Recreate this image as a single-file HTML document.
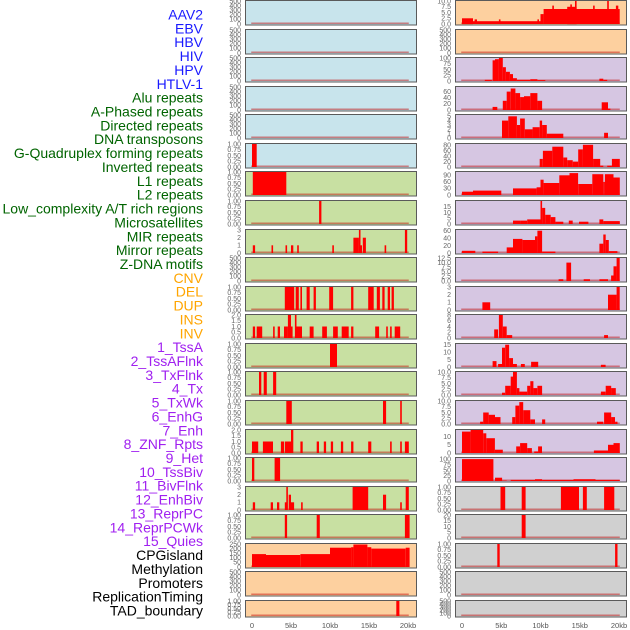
<!DOCTYPE html>
<html><head><meta charset="utf-8">
<style>
html,body{margin:0;padding:0;background:#fff;}
svg{display:block;font-family:"Liberation Sans",sans-serif;}
</style></head>
<body>
<svg id="chart" width="630" height="630" viewBox="0 0 630 630" xmlns="http://www.w3.org/2000/svg"></svg>
<script>
// ---- track labels ----
const trackLabels = ["AAV2","EBV","HBV","HIV","HPV","HTLV-1","Alu repeats","A-Phased repeats","Directed repeats","DNA transposons","G-Quadruplex forming repeats","Inverted repeats","L1 repeats","L2 repeats","Low_complexity A/T rich regions","Microsatellites","MIR repeats","Mirror repeats","Z-DNA motifs","CNV","DEL","DUP","INS","INV","1_TssA","2_TssAFlnk","3_TxFlnk","4_Tx","5_TxWk","6_EnhG","7_Enh","8_ZNF_Rpts","9_Het","10_TssBiv","11_BivFlnk","12_EnhBiv","13_ReprPC","14_ReprPCWk","15_Quies","CPGisland","Methylation","Promoters","ReplicationTiming","TAD_boundary"];
const labelGroups = [6,13,5,15,5];
const groupColors = ["#1a1aff","#006400","#ffa500","#a020f0","#000000"];
// ---- x axis ----
const xTicks = [0,5,10,15,20];
const xTickLabels = ["0","5kb","10kb","15kb","20kb"];
// ---- tick sets ----
const T500 = ["0","100","200","300","400","500"];
const T1 = ["0.00","0.25","0.50","0.75","1.00"];
// ---- column 1 panels ----
const col1Bg = ["b","b","b","b","b","b","g","g","g","g","g","g","g","g","g","g","g","g","g","p","p","p"];
const col1Ticks = [T500,T500,T500,T500,T500,T1,T1,T1,["0","1","2","3"],T500,T1,["0.0","0.5","1.0","1.5","2.0"],T1,T1,T1,["0.0","0.5","1.0","1.5","2.0"],T1,["0","1","2","3"],T1,["0","50","100","150","200","250"],T500,T1];
const col1Max = [500,500,500,500,500,1,1,1,3,500,1,2,1,1,1,2,1,3,1,250,500,1];
const col1Segs = [
[],[],[],[],[],
[[0,0.6,1]],
[[0.1,4.4,1]],
[[8.6,8.9,1]],
[[0.1,0.4,1],[2.5,2.7,1],[4.3,4.5,1],[5.0,5.3,1],[5.8,6.0,1],[10.3,10.5,1],[13.0,13.7,2],[13.7,13.9,3],[13.9,14.1,1],[14.2,14.6,2],[17,17.2,1],[19.6,19.9,3]],
[],
[[4.2,5.4,1],[5.6,6.0,1],[6.2,6.4,1],[7.0,7.4,1],[7.9,8.2,1],[9.9,10.4,1],[12.7,13.0,1],[14.9,15.6,1],[16.0,16.4,1],[16.7,17.0,1],[17.4,17.7,1],[17.9,18.2,1]],
[[0.1,0.4,1],[0.6,1.3,1],[2.7,2.9,1],[3.3,3.6,1],[4.1,4.6,1],[4.6,5.0,2],[5.0,5.2,1],[5.5,5.7,2],[5.7,6.4,1],[7.4,7.9,1],[9.0,9.6,1],[10.4,11.0,1],[11.5,12.4,1],[12.7,13.0,1],[15.8,16.3,1],[17.2,17.4,1],[17.7,17.9,1],[18.3,19.0,1]],
[[10.0,10.9,1]],
[[0.9,1.2,1],[1.5,1.9,1],[2.7,3.1,1]],
[[4.4,5.1,1],[16.8,17.2,1],[19.0,19.2,1]],
[[0,0.8,1],[1.4,2.7,1],[3.7,4.1,1],[4.2,5.0,1],[5.0,5.3,2],[6.2,6.5,1],[8.3,8.6,1],[9.2,9.5,1],[10.1,10.4,1],[11.4,11.7,1],[12.7,13.0,1],[14.9,15.3,1],[17.7,17.9,1],[19.0,19.2,1],[19.6,20.1,1]],
[[0,0.3,1],[2.9,3.6,1]],
[[0.1,0.4,1],[2.4,2.7,1],[3.2,3.5,1],[4.2,4.5,1],[4.4,4.6,3],[4.7,5.0,2],[5.0,5.4,1],[6.3,6.5,1],[12.9,14.9,3],[16.8,17.2,2],[19.0,19.2,1],[19.7,20.1,3]],
[[4.2,4.5,1],[8.3,8.7,1],[19.6,20.2,1]],
[[0,1.8,140],[1.8,6.2,130],[6.2,10,140],[10,12.7,210],[12.7,13,215],[13,14.8,245],[14.8,15.3,215],[15.3,19.7,200],[19.7,20.2,210]],
[],
[[18.5,18.9,1]]
];
// ---- column 2 panels ----
const col2Bg = ["p","p","v","v","v","v","v","v","v","v","v","v","v","v","v","v","v","r","r","r","r","r"];
const col2Ticks = [["0.0","2.5","5.0","7.5","10.0"],T500,["0","25","50","75","100"],["0","20","40","60"],["0","1","2","3","4","5"],["0","20","40","60","80"],["0","30","60","90"],["0","5","10","15"],["0","20","40","60"],["0.0","2.5","5.0","7.5","10.0","12.5"],["0","1","2","3"],["0","2","4","6","8"],["0","5","10","15"],["0.0","2.5","5.0","7.5","10.0"],["0.0","2.5","5.0","7.5","10.0"],["0","5","10"],["0","25","50","75","100"],T1,["0","5","10","15","20"],T1,T500,T500];
const col2Max = [10,500,100,75,5.3,85,105,20,62,12.5,3,8,15.5,10,10,14,105,1,20,1,500,500];
const col2Segs = [
[[0,1.4,2.5],[1.4,10,1.2],[1.6,1.9,2],[4.7,4.9,2],[9.6,9.8,2],[10,10.4,4.3],[10.4,20.1,6.5],[11.5,11.7,8],[13.4,14.6,7.5],[13.8,14.0,8.5],[14.4,14.6,10],[16.7,16.9,8],[18.5,18.7,10],[19.6,19.9,8]],
[],
[[2.9,3.8,5],[3.9,4.2,90],[4.2,4.7,95],[4.7,5.2,100],[5.2,5.6,60],[5.6,6.1,40],[6.1,6.5,30],[6.5,7.0,12],[7.0,8.7,5],[8.7,9.6,8],[9.6,10.6,4],[17.5,18,10],[18,18.5,5]],
[[3.9,4.5,10],[5.2,5.7,30],[5.7,6.2,60],[6.2,6.8,70],[6.8,7.4,55],[7.4,7.9,42],[7.9,8.7,45],[8.7,9.6,55],[9.6,10.2,30],[17.8,18.6,25],[18.6,18.9,5]],
[[5.1,5.9,4],[5.9,7.0,5],[7.0,7.4,3],[7.4,8.0,4.5],[8.0,9.0,2],[9.0,9.9,2.5],[9.9,10.2,4],[10.2,10.8,3],[10.8,12.9,1],[18.1,18.6,1.2]],
[[9.9,10.3,30],[10.3,11.5,60],[11.5,12.9,75],[12.9,13.4,35],[13.4,14.1,25],[14.1,14.8,20],[14.8,15.4,65],[15.4,16.7,82],[16.7,17.6,30],[17.6,18,5],[18.5,19.1,5],[19.1,20.1,30]],
[[0,1.4,15],[1.4,5,20],[6.5,9.5,30],[9.5,10,35],[10,10.4,70],[10.4,12.4,55],[12.4,13.7,90],[13.7,14.8,100],[14.8,16.6,50],[16.6,18.0,95],[18.0,18.2,60],[18.2,19.3,95],[19.3,20.1,80]],
[[6.5,7.4,3],[7.4,8.3,3],[8.3,10,4],[10,10.2,20],[10.2,10.6,14],[10.6,11.3,8],[11.3,11.9,6],[11.9,12.9,2],[13.6,14.1,3],[14.9,16.1,2],[17.5,18.0,4],[18.0,20.1,2.5]],
[[0,1.7,6],[2.6,4.6,4],[5.7,6.5,15],[6.5,7.7,38],[7.7,9.3,35],[9.3,9.6,45],[9.6,10.2,60],[10.2,11.9,4],[17.5,18,25],[18,18.3,50],[18.3,18.7,35],[18.7,19.8,5]],
[[12.3,12.9,1],[13.3,13.9,10],[15.5,16.3,1],[17.5,18.6,1],[19,19.3,3],[19.3,19.7,8],[19.7,20.1,12.5]],
[[2.6,3.6,1],[18.6,19.7,2],[19.7,20.1,3]],
[[4.1,4.6,3],[4.7,5.2,8],[5.2,5.7,4],[5.7,6.4,1],[18.1,18.6,1]],
[[3.9,4.4,4],[4.6,5.1,2],[5.1,5.5,13],[5.5,6.0,15],[6.0,6.5,6],[6.5,7.0,2],[7.5,8.0,2],[8.8,9.7,3.5],[17.7,18.3,1.5]],
[[5.1,5.5,1],[5.5,6.2,4],[6.2,6.5,8],[6.5,7.0,10],[7.0,7.3,3],[7.3,8.3,1.5],[8.3,8.7,4],[8.7,9.1,6],[9.1,9.6,3],[9.6,10.2,4],[17.7,18.3,1.5],[18.3,19.0,4],[19.0,19.6,3]],
[[2.3,2.7,1],[2.7,3.4,5],[3.4,4.2,4],[4.2,4.9,3],[6.4,6.8,3],[6.8,7.3,8],[7.3,7.8,9.5],[7.8,8.7,6],[8.7,9.3,2],[10.2,10.6,2],[17.2,18.0,1],[18.1,19.0,5],[19.0,19.5,3],[19.5,19.8,1]],
[[0,1.1,13],[1.1,2.7,14],[2.7,3.1,12],[3.1,4.2,9],[4.2,5.2,2],[6.9,7.4,4],[7.4,8.3,6],[8.3,8.9,3],[9.2,9.7,1],[9.7,10.2,4],[16.8,18.6,1.5],[18.6,19.3,5],[19.3,20.1,6]],
[[0,4,100],[4.2,5.1,15],[5.1,5.7,2],[6.2,9.3,5],[9.3,10.2,8],[10.2,14.2,5],[14.2,17.0,8],[17.0,20.1,5]],
[[4.9,5.5,1],[7.6,8.1,1],[12.6,14.9,1],[15.4,15.9,1],[18.1,19.4,1]],
[[7.6,8.1,20]],
[[4.5,4.8,1],[19.5,19.8,1]],
[],
[]
];

const NS = "http://www.w3.org/2000/svg";
const svg = document.getElementById("chart");
const bgColors = {b:"#c8e4ec", g:"#c8e0a2", p:"#fdd09f", v:"#d6c6e2", r:"#d0d0d0"};
function mk(tag, attrs, parent){
  const e = document.createElementNS(NS, tag);
  for (const k in attrs) e.setAttribute(k, attrs[k]);
  (parent||svg).appendChild(e);
  return e;
}
const cols = [{left:245, right:416, x0:252, k:7.8, tickX:241}, {left:455, right:626, x0:462, k:7.85, tickX:451}];
function xScale(c, kb){ return cols[c].x0 + kb*cols[c].k; }
function rowTop(i){ return Math.round(i*28.57); }
function rowH(i){ return i===21 ? 17 : 25; }
function yScale(i, v, max){ const b = rowTop(i)+rowH(i)-1, t = rowTop(i)+1; return b - (v/max)*(b-t); }

let li = 0;
labelGroups.forEach((n, g) => {
  for (let j=0;j<n;j++){
    const t = mk("text", {x:203, y:(15 + li*13.86 + 4.5).toFixed(1), "text-anchor":"end", "font-size":"14", fill:groupColors[g]});
    
    
    t.textContent = trackLabels[li];
    li++;
  }
});

function drawCol(c, bgs, ticks, maxs, segs){
  for (let i=0;i<22;i++){
    const top = rowTop(i), h = rowH(i), L = cols[c].left, R = cols[c].right;
    const g = mk("g", {});
    
    
    const bg = mk("rect", {x:L+0.5, y:top+0.5, width:R-L, height:h-0.5, fill:bgColors[bgs[i]], stroke:"#5a5a5a", "stroke-width":"1"}, g);
    
    
    ticks[i].forEach((lab) => {
      const y = yScale(i, parseFloat(lab), maxs[i]);
      const t = mk("text", {x:cols[c].tickX, y:(y+2.3).toFixed(1), "text-anchor":"end", "font-size":"7", fill:"#666"}, g);
      
      
      t.textContent = lab;
    });
    const base = yScale(i, 0, maxs[i]);
    const bl = mk("rect", {x:xScale(c,-0.1), y:base-1.5, width:xScale(c,20.1)-xScale(c,-0.1), height:1.5, fill:"rgba(190,0,0,0.45)"}, g);
    
    
    segs[i].forEach(s => {
      const x1 = xScale(c, s[0]), x2 = xScale(c, s[1]);
      const y = yScale(i, s[2], maxs[i]);
      const r = mk("rect", {x:x1.toFixed(1), y:y.toFixed(1), width:Math.max(1.5, x2-x1).toFixed(1), height:(base-y).toFixed(1), fill:"#ff0000"}, g);
      
      
    });
  }
  xTicks.forEach((kb, j) => {
    const t = mk("text", {x:xScale(c,kb), y:628, "text-anchor":"middle", "font-size":"7.5", fill:"#555"});
    
    
    t.textContent = xTickLabels[j];
  });
}
drawCol(0, col1Bg, col1Ticks, col1Max, col1Segs);
drawCol(1, col2Bg, col2Ticks, col2Max, col2Segs);
</script>
</body></html>
